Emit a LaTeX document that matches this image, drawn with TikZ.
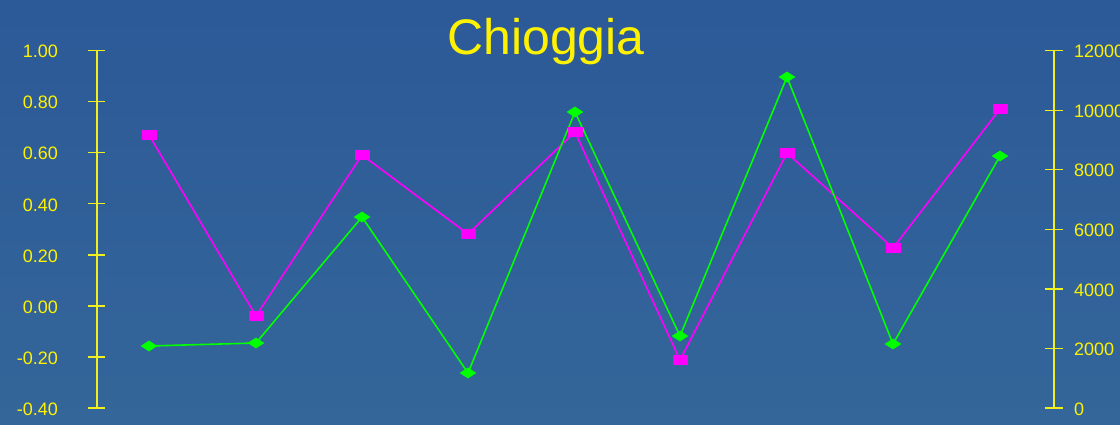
\documentclass[tikz,border=0pt]{standalone}
\usepackage{fontspec}
\setmainfont{Liberation Sans}
\usetikzlibrary{shapes.geometric}
\definecolor{bgtop}{HTML}{2C5998}
\definecolor{bgbot}{HTML}{346699}
\definecolor{axyel}{HTML}{F0F020}
\definecolor{mag}{HTML}{FF00FF}
\definecolor{grn}{HTML}{00FF00}
\tikzset{
  sqmark/.style={rectangle,fill=mag,draw=none,inner sep=0pt,minimum width=15pt,minimum height=10pt},
  dmmark/.style={diamond,fill=grn,draw=none,inner sep=0pt,minimum width=17pt,minimum height=11pt},
  magline/.style={draw=mag,line width=1.6pt},
  grnline/.style={draw=grn,line width=1.6pt},
  axisline/.style={draw=axyel,line width=1.3pt},
  ticklabel/.style={text=yellow,font=\fontsize{18pt}{20pt}\selectfont,inner sep=0pt},
  titlestyle/.style={text=yellow,font=\fontsize{50pt}{56pt}\selectfont,inner sep=0pt}
}
\begin{document}
\begin{tikzpicture}[x=1pt,y=-1pt]
\useasboundingbox (0,0) rectangle (1120,425);
\shade[top color=bgtop,bottom color=bgbot] (0,0) rectangle (1120,425);
\node[titlestyle,anchor=base] (title) at (546,55) {Chioggia};
% left axis
\coordinate (la0) at (97,50.7);
\coordinate (la1) at (97,408);
\draw[axisline] (la0) -- (la1);
\foreach \i/\t in {0/1.00,1/0.80,2/0.60,3/0.40,4/0.20,5/0.00,6/-0.20,7/-0.40}{
  \coordinate (lt\i a) at (88,50.7+\i*51.04);
  \coordinate (lt\i b) at (105,50.7+\i*51.04);
  \draw[axisline] (lt\i a) -- (lt\i b);
  \node[ticklabel,anchor=east] (ll\i) at (58,51.7+\i*51.04) {\t};
}
% right axis
\coordinate (ra0) at (1054,50.7);
\coordinate (ra1) at (1054,408);
\draw[axisline] (ra0) -- (ra1);
\foreach \i/\t in {0/12000,1/10000,2/8000,3/6000,4/4000,5/2000,6/0}{
  \coordinate (rt\i a) at (1045,50.7+\i*59.55);
  \coordinate (rt\i b) at (1063,50.7+\i*59.55);
  \draw[axisline] (rt\i a) -- (rt\i b);
  \node[ticklabel,anchor=west] (rl\i) at (1074,51.7+\i*59.55) {\t};
}
% data coordinates
\coordinate (m1) at (149,135);
\coordinate (m2) at (256,316);
\coordinate (m3) at (362,155);
\coordinate (m4) at (468,234);
\coordinate (m5) at (575,132);
\coordinate (m6) at (680,360);
\coordinate (m7) at (787,153);
\coordinate (m8) at (893,248);
\coordinate (m9) at (1000,109);
\coordinate (g1) at (149,346);
\coordinate (g2) at (256,343);
\coordinate (g3) at (362,217);
\coordinate (g4) at (468,373);
\coordinate (g5) at (575,112);
\coordinate (g6) at (680,336);
\coordinate (g7) at (787,77);
\coordinate (g8) at (893,344);
\coordinate (g9) at (1000,156);
\draw[magline] (m1)--(m2)--(m3)--(m4)--(m5)--(m6)--(m7)--(m8)--(m9);
\draw[grnline] (g1)--(g2)--(g3)--(g4)--(g5)--(g6)--(g7)--(g8)--(g9);
\foreach \k in {1,...,9}{
  \node[dmmark] (gn\k) at (g\k) {};
}
\foreach \k in {1,...,9}{
  \node[sqmark] (mn\k) at (m\k) {};
}
\end{tikzpicture}
\end{document}
